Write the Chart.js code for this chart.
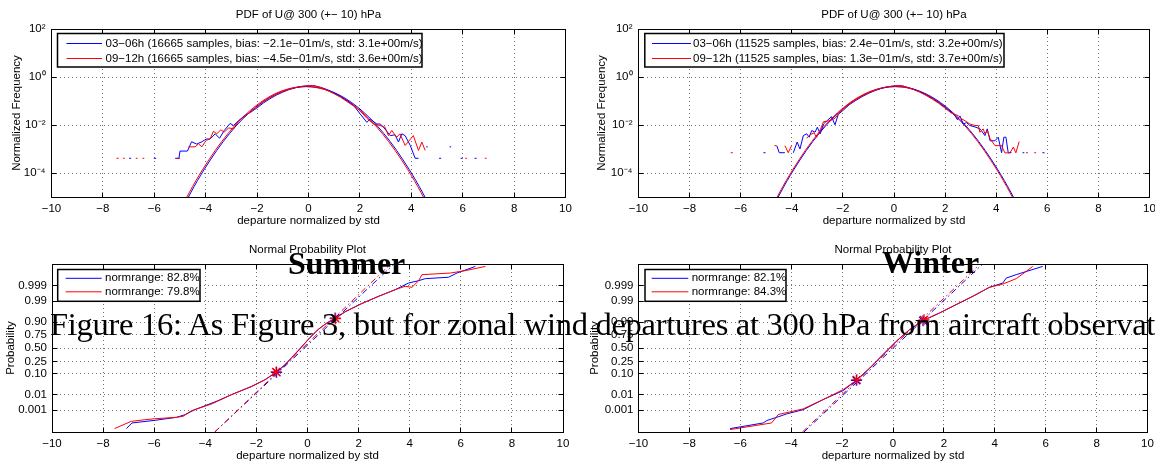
<!DOCTYPE html>
<html>
<head>
<meta charset="utf-8">
<script src="https://cdn.jsdelivr.net/npm/chart.js@4.4.1/dist/chart.umd.min.js"></script>
<style>
  html, body { margin:0; padding:0; background:#fff; }
  body { width:1155px; height:463px; overflow:hidden; position:relative; }
  canvas { position:absolute; }
  .ov { position:absolute; white-space:nowrap; color:#000; line-height:1; pointer-events:none; z-index:5; }
  #summer, #winter { font-family:'Liberation Serif','Times New Roman',serif; font-weight:bold; font-size:32px; }
  #caption { font-family:'Liberation Serif','Times New Roman',serif; font-size:32.5px; }
</style>
</head>
<body>
<canvas id="cTL" width="577" height="231" style="left:0;top:0"></canvas>
<canvas id="cTR" width="578" height="231" style="left:577px;top:0"></canvas>
<canvas id="cBL" width="577" height="232" style="left:0;top:231px"></canvas>
<canvas id="cBR" width="578" height="232" style="left:577px;top:231px"></canvas>
<div id="summer" class="ov" style="left:288px;top:247px">Summer</div>
<div id="winter" class="ov" style="left:882px;top:246px">Winter</div>
<div id="caption" class="ov" style="left:50px;top:308px"><span id="capText">Figure 16: As Figure 3, but for zonal wind departures at 300 hPa from aircraft observat</span></div>
<script>
// ---------------- data ----------------
const xTicks = [-10, -8, -6, -4, -2, 0, 2, 4, 6, 8, 10];
const pdfTickValues = [1e-4, 1e-2, 1, 100];
const pdfTickLabels = ['10\u207B\u2074', '10\u207B\u00B2', '10\u2070', '10\u00B2'];
const probTickZ = [-3.0902, -2.3263, -1.2816, -0.6745, 0, 0.6745, 1.2816, 2.3263, 3.0902];
const probTickLabels = ['0.001', '0.01', '0.10', '0.25', '0.50', '0.75', '0.90', '0.99', '0.999'];

// Gaussian fit curves (shape, same for all panels)
const fitShapeY = [5.0e-6, 1.6e-5, 4.8e-5, 1.34e-4, 3.5e-4, 8.7e-4, 2.03e-3, 4.43e-3, 9.1e-3, 0.0175, 0.0317, 0.054, 0.0863, 0.1295, 0.1826, 0.242, 0.301, 0.352, 0.387, 0.399,
                   0.387, 0.352, 0.301, 0.242, 0.1826, 0.1295, 0.0863, 0.054, 0.0317, 0.0175, 9.1e-3, 4.43e-3, 2.03e-3, 8.7e-4, 3.5e-4, 1.34e-4, 4.8e-5, 1.6e-5, 5.0e-6];
const fitSummerBlueX = [-4.82,-4.57,-4.32,-4.07,-3.82,-3.57,-3.32,-3.07,-2.82,-2.57,-2.32,-2.07,-1.82,-1.57,-1.32,-1.07,-0.82,-0.57,-0.32,-0.07,0.18,0.43,0.68,0.93,1.18,1.43,1.68,1.93,2.18,2.43,2.68,2.93,3.18,3.43,3.68,3.93,4.18,4.43,4.68];
const fitSummerRedX  = [-4.88,-4.63,-4.38,-4.13,-3.88,-3.63,-3.38,-3.13,-2.88,-2.63,-2.38,-2.13,-1.88,-1.63,-1.38,-1.13,-0.88,-0.63,-0.38,-0.13,0.12,0.37,0.62,0.87,1.12,1.37,1.62,1.87,2.12,2.37,2.62,2.87,3.12,3.37,3.62,3.87,4.12,4.37,4.62];
const fitWinterBlueX = [-4.68,-4.43,-4.18,-3.93,-3.68,-3.43,-3.18,-2.93,-2.68,-2.43,-2.18,-1.93,-1.68,-1.43,-1.18,-0.93,-0.68,-0.43,-0.18,0.07,0.32,0.57,0.82,1.07,1.32,1.57,1.82,2.07,2.32,2.57,2.82,3.07,3.32,3.57,3.82,4.07,4.32,4.57,4.82];
const fitWinterRedX  = [-4.72,-4.47,-4.22,-3.97,-3.72,-3.47,-3.22,-2.97,-2.72,-2.47,-2.22,-1.97,-1.72,-1.47,-1.22,-0.97,-0.72,-0.47,-0.22,0.03,0.28,0.53,0.78,1.03,1.28,1.53,1.78,2.03,2.28,2.53,2.78,3.03,3.28,3.53,3.78,4.03,4.28,4.53,4.78];

// Empirical PDFs (null = empty bin, line break)
const pdfSummerBlueX = [-6.98,-6.90,-6.90, -6.02,-5.93,-5.93, -5.19,-5.04,-5.00,-4.71,-4.55,-4.35,-4.15,-3.98,-3.83,-3.63,-3.46,-3.28,-3.05,-2.92,-2.72,-2.50,-2.25,-2.00,-1.75,-1.50,-1.25,-1.00,-0.75,-0.50,-0.25,0.00,0.15,0.25,0.50,0.75,1.00,1.25,1.50,1.75,2.00,2.27,2.40,2.66,2.79,2.92,3.18,3.37,3.50,3.63,3.76,3.96,4.15,4.28,4.28, 4.58,4.64,4.64, 5.08,5.16,5.16, 5.49,5.55,5.55, 5.92,6.00,6.00, 6.46,6.54];
const pdfSummerBlueY = [4.1e-4,4.1e-4,null, 4.1e-4,4.1e-4,null, 4.1e-4,4.1e-4,8.2e-4,8.2e-4,2.0e-3,1.6e-3,2.0e-3,2.6e-3,2.6e-3,4.3e-3,2.8e-3,5.9e-3,0.0117,0.0095,0.0151,0.024,0.034,0.052,0.083,0.124,0.176,0.235,0.300,0.357,0.405,0.430,0.440,0.425,0.365,0.290,0.215,0.152,0.103,0.066,0.030,0.0129,0.0178,0.011,0.011,0.0081,0.0036,0.0039,0.00195,0.0043,0.0036,0.0014,4.1e-4,4.1e-4,null, 1.23e-3,1.23e-3,null, 4.1e-4,4.1e-4,null, 1.23e-3,1.23e-3,null, 4.1e-4,4.1e-4,null, 4.1e-4,4.1e-4];
const pdfSummerRedX = [-7.47,-7.39,-7.39, -7.22,-7.15,-7.15, -6.72,-6.65,-6.65, -6.46,-6.39,-6.39, -5.12,-5.00,-5.00, -4.67,-4.41,-4.28,-4.15,-3.98,-3.83,-3.70,-3.57,-3.41,-3.28,-3.11,-2.92,-2.72,-2.50,-2.25,-2.00,-1.75,-1.50,-1.25,-1.00,-0.75,-0.50,-0.25,0.00,0.20,0.50,0.75,1.00,1.25,1.50,1.75,2.00,2.27,2.53,2.79,2.98,3.11,3.24,3.43,3.56,3.76,4.08,4.28,4.41,4.54,4.54, 6.10,6.17,6.17, 6.86,6.93];
const pdfSummerRedY = [4.1e-4,4.1e-4,null, 4.1e-4,4.1e-4,null, 4.1e-4,4.1e-4,null, 4.1e-4,4.1e-4,null, 4.1e-4,4.1e-4,null, 1.23e-3,1.23e-3,1.64e-3,1.23e-3,2.3e-3,2.6e-3,5.5e-3,4.3e-3,6.3e-3,5.0e-3,7.6e-3,6.9e-3,0.0151,0.022,0.036,0.058,0.092,0.137,0.190,0.250,0.310,0.365,0.410,0.435,0.430,0.355,0.275,0.200,0.142,0.095,0.062,0.040,0.019,0.011,0.0095,0.0081,0.0036,0.0059,0.0031,0.0043,0.0014,0.0036,8.7e-4,1.95e-3,8.7e-4,null, 4.1e-4,4.1e-4,null, 4.1e-4,4.1e-4];
const pdfWinterBlueX = [-5.11,-5.03,-5.03, -4.59,-4.49,-4.27,-4.27, -3.94,-3.79,-3.68,-3.55,-3.42,-3.32,-3.22,-3.09,-3.00,-2.89,-2.76,-2.60,-2.45,-2.31,-2.18,-2.00,-1.75,-1.50,-1.25,-1.00,-0.75,-0.50,-0.25,0.00,0.15,0.30,0.50,0.75,1.00,1.25,1.50,1.75,2.00,2.25,2.39,2.48,2.58,2.71,2.84,2.97,3.17,3.37,3.56,3.65,3.76,3.95,4.08,4.21,4.30,4.38,4.47,4.60,4.60, 5.03,5.10,5.10, 5.81,5.89];
const pdfWinterBlueY = [7e-4,7e-4,null, 1.38e-3,7e-4,7e-4,null, 7e-4,1.95e-3,1.0e-3,3.6e-3,4.3e-3,3.1e-3,5.9e-3,5.0e-3,8.1e-3,4.3e-3,0.011,0.0158,0.0224,0.0102,0.028,0.040,0.070,0.105,0.152,0.207,0.270,0.335,0.390,0.420,0.435,0.430,0.380,0.315,0.245,0.180,0.128,0.086,0.054,0.033,0.024,0.0166,0.024,0.011,0.0126,0.0095,0.0083,0.0069,0.0036,0.0069,0.0022,0.0022,0.0031,7e-4,0.0031,0.0031,7e-4,7e-4,null, 7e-4,7e-4,null, 7e-4,7e-4];
const pdfWinterRedX = [-6.39,-6.31,-6.31, -4.68,-4.60,-4.60, -4.27,-4.14,-4.01,-4.01, -3.42,-3.29,-3.13,-3.03,-2.87,-2.76,-2.50,-2.31,-2.10,-1.85,-1.50,-1.25,-1.00,-0.75,-0.50,-0.25,0.00,0.15,0.35,0.50,0.75,1.00,1.25,1.50,1.75,2.00,2.25,2.52,2.65,2.78,2.97,3.17,3.30,3.36,3.49,3.56,3.65,3.76,3.95,4.21,4.34,4.54,4.67,4.77,4.90,4.90, 5.17,5.24,5.24, 5.49,5.56];
const pdfWinterRedY = [7e-4,7e-4,null, 1.38e-3,1.38e-3,null, 1.38e-3,7e-4,1.38e-3,null, 2.8e-3,3.9e-3,4.7e-3,3.1e-3,6.9e-3,0.0138,0.0151,0.019,0.036,0.062,0.113,0.160,0.218,0.280,0.342,0.395,0.425,0.440,0.420,0.375,0.305,0.235,0.172,0.120,0.080,0.050,0.031,0.0245,0.0178,0.0151,0.011,0.0095,0.0095,0.005,0.0069,0.0043,0.0059,0.0027,0.00138,0.00138,6.9e-4,6.9e-4,0.0012,6.9e-4,0.00205,null, 7e-4,7e-4,null, 7e-4,7e-4];

// Normal probability plots (x = departure, z = normal quantile)
const npSummerBlueX = [-7.09,-6.87,-5.98,-5.13,-4.80,-4.41,-3.50,-2.97,-2.19,-1.67,-1.21,-0.88,-0.56,-0.23,0.10,0.42,0.75,1.08,1.47,2.12,2.78,3.43,3.95,4.35,4.61,5.52,5.85,6.57];
const npSummerBlueZ = [-4.01,-3.73,-3.60,-3.45,-3.32,-3.07,-2.62,-2.32,-1.91,-1.58,-1.21,-0.84,-0.40,0.05,0.52,0.92,1.24,1.49,1.80,2.21,2.57,2.90,3.23,3.35,3.45,3.52,3.73,4.06];
const npSummerRedX = [-7.55,-6.90,-6.37,-5.98,-5.13,-4.87,-4.54,-3.76,-2.97,-2.19,-1.67,-1.23,-0.88,-0.56,-0.23,0.10,0.42,0.75,1.10,1.47,2.12,2.78,3.43,3.82,4.09,4.35,4.48,5.59,6.18,6.96];
const npSummerRedZ = [-4.01,-3.65,-3.57,-3.52,-3.45,-3.40,-3.12,-2.79,-2.32,-1.92,-1.59,-1.19,-0.83,-0.39,0.06,0.53,0.93,1.24,1.46,1.80,2.21,2.57,2.90,3.07,3.02,3.35,3.65,3.73,3.85,4.06];
const npSummerMarkBlue = {x: [-1.21, 1.08], z: [-1.21, 1.49]};
const npSummerMarkRed  = {x: [-1.23, 1.10], z: [-1.19, 1.46]};
const npSummerRefBlue  = {x: [-3.63, 3.33], z: [-4.18, 4.11]};
const npSummerRefRed   = {x: [-3.63, 3.20], z: [-4.18, 4.11]};

const npWinterBlueX = [-6.40,-5.10,-4.96,-4.57,-4.18,-3.53,-2.75,-1.96,-1.44,-0.91,-0.39,0.13,0.65,1.18,1.83,2.49,3.14,3.79,4.31,4.45,4.84,5.88];
const npWinterBlueZ = [-4.01,-3.73,-3.61,-3.45,-3.28,-3.07,-2.57,-2.12,-1.61,-1.00,-0.33,0.33,0.91,1.36,1.74,2.16,2.57,3.02,3.23,3.48,3.65,4.06];
const npWinterRedX = [-6.40,-4.77,-4.51,-4.05,-3.53,-2.75,-1.96,-1.44,-0.91,-0.39,0.13,0.65,1.20,1.83,2.49,3.14,3.79,4.31,4.84,5.23,5.49];
const npWinterRedZ = [-4.06,-3.73,-3.31,-3.18,-3.03,-2.57,-2.07,-1.61,-0.99,-0.32,0.34,0.92,1.38,1.75,2.17,2.58,3.02,3.18,3.45,3.81,4.06];
const npWinterMarkBlue = {x: [-1.44, 1.18], z: [-1.61, 1.36]};
const npWinterMarkRed  = {x: [-1.42, 1.22], z: [-1.58, 1.40]};
const npWinterRefBlue  = {x: [-3.50, 3.50], z: [-4.18, 4.15]};
const npWinterRefRed   = {x: [-3.56, 3.40], z: [-4.18, 4.15]};

const legendSummerPDF = ['03\u221206h (16665 samples, bias: \u22122.1e\u221201m/s, std: 3.1e+00m/s)', '09\u221212h (16665 samples, bias: \u22124.5e\u221201m/s, std: 3.6e+00m/s)'];
const legendWinterPDF = ['03\u221206h (11525 samples, bias: 2.4e\u221201m/s, std: 3.2e+00m/s)', '09\u221212h (11525 samples, bias: 1.3e\u221201m/s, std: 3.7e+00m/s)'];
const legendSummerNP = ['normrange: 82.8%', 'normrange: 79.8%'];
const legendWinterNP = ['normrange: 82.1%', 'normrange: 84.3%'];

// ---------------- rendering ----------------
const BLUE = '#0000ff', RED = '#ff0000', GRID = 'rgba(0,0,0,0.55)';
const FONT = "'Liberation Sans', Arial, Helvetica, sans-serif";
Chart.defaults.font.family = FONT;
Chart.defaults.font.size = 11.5;
Chart.defaults.color = '#000';

function pts(xs, ys) { return xs.map((x, i) => ({x: x, y: ys[i]})); }
function fmtX(v) { return v < 0 ? '\u2212' + (-v) : String(v); }
function lineDs(data, color, extra) {
  return Object.assign({data: data, borderColor: color, backgroundColor: color, showLine: true,
    pointRadius: 0, pointHoverRadius: 0, borderWidth: 1, tension: 0, spanGaps: false, fill: false}, extra || {});
}
function markDs(m, color) {
  return {data: pts(m.x, m.z), showLine: false, pointStyle: 'star', pointRadius: 5.5,
    pointBorderColor: color, pointBackgroundColor: color, pointBorderWidth: 1.2, borderColor: color};
}

const matlabPlugin = {
  id: 'matlab',
  afterDatasetsDraw(chart, args, o) {
    const ctx = chart.ctx, a = chart.chartArea;
    const L = Math.floor(a.left) + 0.5, R = Math.floor(a.right) + 0.5, T = Math.floor(a.top) + 0.5, B = Math.floor(a.bottom) + 0.5;
    ctx.save();
    ctx.setLineDash([]);
    ctx.strokeStyle = '#000'; ctx.lineWidth = 1;
    const tl = 5;
    ctx.beginPath();
    chart.scales.x.ticks.forEach(t => {
      const p = Math.floor(chart.scales.x.getPixelForValue(t.value)) + 0.5;
      ctx.moveTo(p, B); ctx.lineTo(p, B - tl); ctx.moveTo(p, T); ctx.lineTo(p, T + tl);
    });
    chart.scales.y.ticks.forEach(t => {
      const p = Math.floor(chart.scales.y.getPixelForValue(t.value)) + 0.5;
      ctx.moveTo(L, p); ctx.lineTo(L + tl, p); ctx.moveTo(R, p); ctx.lineTo(R - tl, p);
    });
    ctx.stroke();
    ctx.strokeRect(L, T, R - L, B - T);
    // title
    ctx.fillStyle = '#000';
    ctx.font = '11.5px ' + FONT;
    ctx.textAlign = 'center'; ctx.textBaseline = 'middle';
    ctx.fillText(o.title, (a.left + a.right) / 2, o.titleY);
    // legend
    const lg = o.legend, bx = lg.box;
    ctx.fillStyle = '#fff';
    ctx.fillRect(bx[0], bx[1], bx[2] - bx[0], bx[3] - bx[1]);
    ctx.save();
    ctx.beginPath(); ctx.rect(bx[0], bx[1], bx[2] - bx[0], bx[3] - bx[1]); ctx.clip();
    lg.rows.forEach(r => {
      ctx.strokeStyle = r.color; ctx.lineWidth = 1;
      ctx.beginPath(); ctx.moveTo(lg.lineX[0], r.y); ctx.lineTo(lg.lineX[1], r.y); ctx.stroke();
      ctx.fillStyle = '#000'; ctx.textAlign = 'left'; ctx.textBaseline = 'middle';
      ctx.fillText(r.text, lg.textX, r.y);
    });
    ctx.restore();
    ctx.strokeStyle = '#000'; ctx.lineWidth = 1.5;
    ctx.strokeRect(bx[0], bx[1], bx[2] - bx[0], bx[3] - bx[1]);
    ctx.restore();
  }
};

function makeChart(id, datasets, cfg) {
  return new Chart(document.getElementById(id), {
    type: 'scatter',
    data: {datasets: datasets},
    options: {
      responsive: false, animation: false, devicePixelRatio: 1, events: [],
      layout: {padding: cfg.padding},
      plugins: {legend: {display: false}, tooltip: {enabled: false}, title: {display: false}, matlab: cfg.matlab},
      scales: {
        x: {
          type: 'linear', min: -10, max: 10,
          afterBuildTicks: s => { s.ticks = xTicks.map(v => ({value: v})); },
          afterFit: s => { s.height = cfg.xH; s.paddingLeft = 0; s.paddingRight = 0; },
          ticks: {padding: cfg.xPad, maxRotation: 0, minRotation: 0, autoSkip: false, callback: v => fmtX(v)},
          grid: {drawTicks: false, color: GRID, lineWidth: 1},
          border: {display: false, dash: [1, 3]},
          title: {display: true, text: 'departure normalized by std', padding: {top: 0, bottom: cfg.xTitlePad}}
        },
        y: Object.assign({
          afterFit: s => { s.width = cfg.yW; s.paddingTop = 0; s.paddingBottom = 0; },
          grid: {drawTicks: false, color: GRID, lineWidth: 1},
          border: {display: false, dash: [1, 3]}
        }, cfg.y)
      }
    },
    plugins: [matlabPlugin]
  });
}

function pdfY(titlePad) {
  return {
    type: 'logarithmic', min: 1e-5, max: 100,
    afterBuildTicks: s => { s.ticks = pdfTickValues.map(v => ({value: v})); },
    ticks: {padding: 6, autoSkip: false, callback: (v, i) => pdfTickLabels[i]},
    title: {display: true, text: 'Normalized Frequency', padding: {top: titlePad, bottom: 0}}
  };
}
function npY(titlePad) {
  return {
    type: 'linear', min: -4.18, max: 4.18,
    afterBuildTicks: s => { s.ticks = probTickZ.map(v => ({value: v})); },
    ticks: {padding: 5, autoSkip: false, callback: (v, i) => probTickLabels[i]},
    title: {display: true, text: 'Probability', padding: {top: titlePad, bottom: 0}}
  };
}
const DASHDOT = [6, 3, 1.5, 3];

// Top-left: summer PDF
makeChart('cTL', [
  lineDs(pts(pdfSummerRedX, pdfSummerRedY), RED),
  lineDs(pts(pdfSummerBlueX, pdfSummerBlueY), BLUE),
  lineDs(pts(fitSummerRedX, fitShapeY), RED, {cubicInterpolationMode: 'monotone'}),
  lineDs(pts(fitSummerBlueX, fitShapeY), BLUE, {cubicInterpolationMode: 'monotone'})
], {
  padding: {left: 0, top: 29, right: 11.5, bottom: 0}, yW: 51.5, xH: 34, xPad: 5, xTitlePad: 3,
  y: pdfY(10),
  matlab: {title: 'PDF of U@ 300 (+\u2212 10) hPa', titleY: 15,
    legend: {box: [57.5, 33.5, 422, 67], lineX: [66.5, 102], textX: 105.5,
      rows: [{y: 43.5, color: BLUE, text: legendSummerPDF[0]}, {y: 58.5, color: RED, text: legendSummerPDF[1]}]}}
});

// Top-right: winter PDF
makeChart('cTR', [
  lineDs(pts(pdfWinterRedX, pdfWinterRedY), RED),
  lineDs(pts(pdfWinterBlueX, pdfWinterBlueY), BLUE),
  lineDs(pts(fitWinterRedX, fitShapeY), RED, {cubicInterpolationMode: 'monotone'}),
  lineDs(pts(fitWinterBlueX, fitShapeY), BLUE, {cubicInterpolationMode: 'monotone'})
], {
  padding: {left: 0, top: 29, right: 5.5, bottom: 0}, yW: 61.5, xH: 34, xPad: 5, xTitlePad: 3,
  y: pdfY(17.5),
  matlab: {title: 'PDF of U@ 300 (+\u2212 10) hPa', titleY: 15,
    legend: {box: [67.8, 33.5, 427, 67], lineX: [75, 114], textX: 116,
      rows: [{y: 43.5, color: BLUE, text: legendWinterPDF[0]}, {y: 58.5, color: RED, text: legendWinterPDF[1]}]}}
});

// Bottom-left: summer normal probability plot
makeChart('cBL', [
  markDs(npSummerMarkRed, RED),
  markDs(npSummerMarkBlue, BLUE),
  lineDs(pts(npSummerRedX, npSummerRedZ), RED),
  lineDs(pts(npSummerBlueX, npSummerBlueZ), BLUE),
  lineDs(pts(npSummerRefRed.x, npSummerRefRed.z), RED, {borderDash: DASHDOT}),
  lineDs(pts(npSummerRefBlue.x, npSummerRefBlue.z), BLUE, {borderDash: DASHDOT})
], {
  padding: {left: 0, top: 33, right: 14, bottom: 0}, yW: 52, xH: 31, xPad: 5, xTitlePad: 0,
  y: npY(3.5),
  matlab: {title: 'Normal Probability Plot', titleY: 19,
    legend: {box: [57.7, 38.5, 200, 70.3], lineX: [65.7, 101.7], textX: 105,
      rows: [{y: 47.3, color: BLUE, text: legendSummerNP[0]}, {y: 60.8, color: RED, text: legendSummerNP[1]}]}}
});

// Bottom-right: winter normal probability plot
makeChart('cBR', [
  markDs(npWinterMarkRed, RED),
  markDs(npWinterMarkBlue, BLUE),
  lineDs(pts(npWinterRedX, npWinterRedZ), RED),
  lineDs(pts(npWinterBlueX, npWinterBlueZ), BLUE),
  lineDs(pts(npWinterRefRed.x, npWinterRefRed.z), RED, {borderDash: DASHDOT}),
  lineDs(pts(npWinterRefBlue.x, npWinterRefBlue.z), BLUE, {borderDash: DASHDOT})
], {
  padding: {left: 0, top: 33, right: 7.5, bottom: 0}, yW: 61.5, xH: 31, xPad: 5, xTitlePad: 0,
  y: npY(10.8),
  matlab: {title: 'Normal Probability Plot', titleY: 19,
    legend: {box: [68, 38.5, 209, 70.3], lineX: [74.7, 111.3], textX: 114.7,
      rows: [{y: 47.3, color: BLUE, text: legendWinterNP[0]}, {y: 60.8, color: RED, text: legendWinterNP[1]}]}}
});

// Fit the caption's spread to the page width it covers in the reference
(function () {
  const cap = document.getElementById('capText');
  const w0 = cap.getBoundingClientRect().width;
  const n = cap.textContent.length;
  cap.style.letterSpacing = ((1105 - w0) / n).toFixed(3) + 'px';
})();
</script>
</body>
</html>
